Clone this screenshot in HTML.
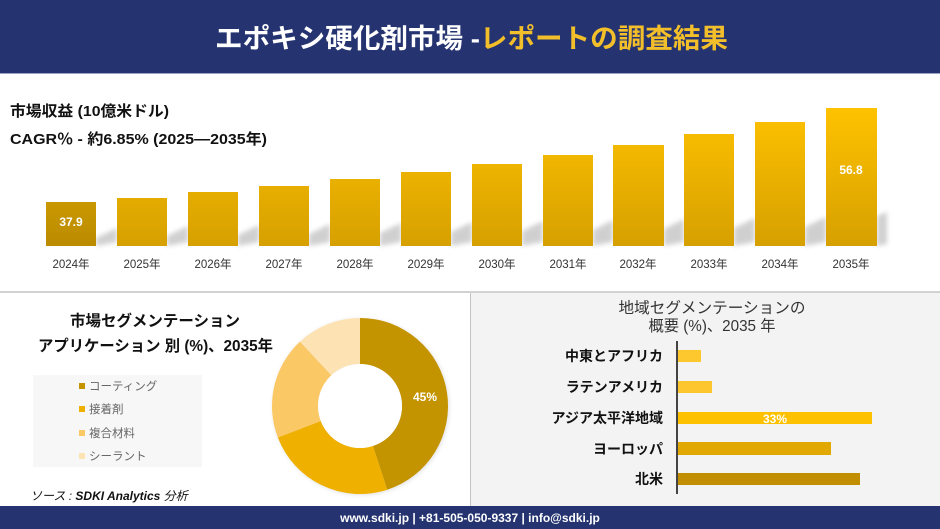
<!DOCTYPE html>
<html><head><meta charset="utf-8">
<style>
html,body{margin:0;padding:0;background:#fff;}
svg{display:block;}
text{font-family:"Liberation Sans","Noto Sans CJK JP",sans-serif;}
</style></head>
<body>
<svg width="940" height="529" viewBox="0 0 940 529" xmlns="http://www.w3.org/2000/svg">
<defs>
  <linearGradient id="bg" gradientUnits="userSpaceOnUse" x1="0" y1="108" x2="0" y2="246">
    <stop offset="0" stop-color="#fec200"/>
    <stop offset="1" stop-color="#d6a000"/>
  </linearGradient>
  <linearGradient id="bg0" x1="0" y1="0" x2="0" y2="1">
    <stop offset="0" stop-color="#c99800"/>
    <stop offset="1" stop-color="#bb8b00"/>
  </linearGradient>
  <filter id="blur" x="-50%" y="-50%" width="200%" height="200%"><feGaussianBlur stdDeviation="2.5"/></filter>
  <filter id="ds" x="-20%" y="-20%" width="140%" height="140%"><feGaussianBlur stdDeviation="2"/></filter>
</defs>

<!-- header -->
<rect x="0" y="0" width="940" height="73" fill="#253470"/>
<rect x="0" y="73" width="940" height="1" fill="#9aa3c2"/>
<text x="215" y="48" font-size="27" font-weight="bold" fill="#ffffff" textLength="513" lengthAdjust="spacingAndGlyphs">エポキシ硬化剤市場 -<tspan fill="#f2be2a">レポートの調査結果</tspan></text>

<!-- top texts -->
<text x="10" y="116" font-size="15" font-weight="bold" fill="#111" textLength="159" lengthAdjust="spacingAndGlyphs">市場収益 (10億米ドル)</text>
<text x="10" y="144" font-size="15" font-weight="bold" fill="#111" textLength="257" lengthAdjust="spacingAndGlyphs">CAGR％ - 約6.85% (2025—2035年)</text>

<!-- bar shadows -->
<g fill="#8a8a8a" opacity="0.4" filter="url(#blur)">
  <polygon points="96,246 96,238 117,228 117,242"/>
  <polygon points="167,246 167,236 188,226 188,242"/>
  <polygon points="238,246 238,235 259,225 259,242"/>
  <polygon points="309,246 309,234 330,224 330,242"/>
  <polygon points="380,246 380,233 401,223 401,242"/>
  <polygon points="451,246 451,232 472,222 472,242"/>
  <polygon points="522,246 522,231 543,221 543,242"/>
  <polygon points="593,246 593,230 613,220 613,242"/>
  <polygon points="664,246 664,229 684,219 684,242"/>
  <polygon points="734,246 734,228 755,218 755,242"/>
  <polygon points="805,246 805,227 826,217 826,242"/>
  <polygon points="877,246 877,216 887,212 887,244"/>
</g>

<!-- bars -->
<rect x="46" y="202" width="50" height="44" fill="url(#bg0)"/>
<rect x="117" y="198" width="50" height="48" fill="url(#bg)"/>
<rect x="188" y="192" width="50" height="54" fill="url(#bg)"/>
<rect x="259" y="186" width="50" height="60" fill="url(#bg)"/>
<rect x="330" y="179" width="50" height="67" fill="url(#bg)"/>
<rect x="401" y="172" width="50" height="74" fill="url(#bg)"/>
<rect x="472" y="164" width="50" height="82" fill="url(#bg)"/>
<rect x="543" y="155" width="50" height="91" fill="url(#bg)"/>
<rect x="613" y="145" width="51" height="101" fill="url(#bg)"/>
<rect x="684" y="134" width="50" height="112" fill="url(#bg)"/>
<rect x="755" y="122" width="50" height="124" fill="url(#bg)"/>
<rect x="826" y="108" width="51" height="138" fill="url(#bg)"/>

<text x="71" y="226" font-size="12" font-weight="bold" fill="#fff" text-anchor="middle">37.9</text>
<text x="851" y="174" font-size="12" font-weight="bold" fill="#fff" text-anchor="middle">56.8</text>

<!-- year labels -->
<g font-size="11.5" fill="#333" text-anchor="middle">
  <text x="71" y="268">2024年</text>
  <text x="142" y="268">2025年</text>
  <text x="213" y="268">2026年</text>
  <text x="284" y="268">2027年</text>
  <text x="355" y="268">2028年</text>
  <text x="426" y="268">2029年</text>
  <text x="497" y="268">2030年</text>
  <text x="568" y="268">2031年</text>
  <text x="638" y="268">2032年</text>
  <text x="709" y="268">2033年</text>
  <text x="780" y="268">2034年</text>
  <text x="851" y="268">2035年</text>
</g>

<!-- dividers & panels -->
<rect x="0" y="291" width="940" height="2" fill="#d2d2d2"/>
<rect x="471" y="293" width="469" height="213" fill="#f3f3f3"/>
<rect x="470" y="293" width="1" height="213" fill="#c4c4c4"/>

<!-- left panel titles -->
<text x="155" y="326" font-size="15.5" font-weight="bold" fill="#111" text-anchor="middle" textLength="170" lengthAdjust="spacingAndGlyphs">市場セグメンテーション</text>
<text x="38" y="351" font-size="15.5" font-weight="bold" fill="#111" textLength="235" lengthAdjust="spacingAndGlyphs">アプリケーション 別 (%)、2035年</text>

<!-- legend -->
<rect x="33" y="375" width="169" height="92" fill="#f7f7f7"/>
<rect x="79" y="383" width="6" height="6" fill="#c49300"/>
<rect x="79" y="406" width="6" height="6" fill="#efb000"/>
<rect x="79" y="430" width="6" height="6" fill="#fbc866"/>
<rect x="79" y="453" width="6" height="6" fill="#fde3b4"/>
<g font-size="11.5" fill="#666">
  <text x="89" y="390">コーティング</text>
  <text x="89" y="413">接着剤</text>
  <text x="89" y="437">複合材料</text>
  <text x="89" y="460">シーラント</text>
</g>

<!-- donut -->
<circle cx="361" cy="407" r="88" fill="#888" opacity="0.25" filter="url(#ds)"/>
<path d="M360,318 A88,88 0 0 1 387.19,489.70 L372.98,445.95 A42,42 0 0 0 360,364 Z" fill="#c49300"/>
<path d="M387.19,489.70 A88,88 0 0 1 277.84,437.54 L320.79,421.05 A42,42 0 0 0 372.98,445.95 Z" fill="#efb000"/>
<path d="M277.84,437.54 A88,88 0 0 1 299.98,341.64 L331.36,375.28 A42,42 0 0 0 320.79,421.05 Z" fill="#fbc866"/>
<path d="M299.98,341.64 A88,88 0 0 1 360,318 L360,364 A42,42 0 0 0 331.36,375.28 Z" fill="#fde3b4"/>
<circle cx="360" cy="406" r="42" fill="#fff"/>
<text x="425" y="401" font-size="12" font-weight="bold" fill="#fff" text-anchor="middle">45%</text>

<!-- source -->
<text x="30" y="500" font-size="12" font-style="italic" fill="#111">ソース : <tspan font-weight="bold">SDKI Analytics</tspan> 分析</text>

<!-- right panel -->
<text x="712" y="313" font-size="15.5" fill="#333" text-anchor="middle" textLength="187" lengthAdjust="spacingAndGlyphs">地域セグメンテーションの</text>
<text x="712" y="331" font-size="15.5" fill="#333" text-anchor="middle" textLength="127" lengthAdjust="spacingAndGlyphs">概要 (%)、2035 年</text>

<rect x="677" y="350" width="24" height="12" fill="#fdc72e"/>
<rect x="677" y="381" width="35" height="12" fill="#fdc62f"/>
<rect x="677" y="412" width="195" height="12" fill="#fdc100"/>
<rect x="677" y="442" width="154" height="13" fill="#e0a800"/>
<rect x="677" y="473" width="183" height="12" fill="#c08e00"/>
<rect x="676" y="341" width="2" height="153" fill="#444"/>
<text x="775" y="423" font-size="12" font-weight="bold" fill="#fff" text-anchor="middle">33%</text>

<g font-size="14" font-weight="bold" fill="#111" text-anchor="end">
  <text x="663" y="361">中東とアフリカ</text>
  <text x="663" y="392">ラテンアメリカ</text>
  <text x="663" y="423">アジア太平洋地域</text>
  <text x="663" y="454">ヨーロッパ</text>
  <text x="663" y="484">北米</text>
</g>

<!-- footer -->
<rect x="0" y="506" width="940" height="23" fill="#253470"/>
<text x="470" y="522" font-size="12" font-weight="bold" fill="#fff" text-anchor="middle">www.sdki.jp | +81-505-050-9337 | info@sdki.jp</text>
</svg>
</body></html>
